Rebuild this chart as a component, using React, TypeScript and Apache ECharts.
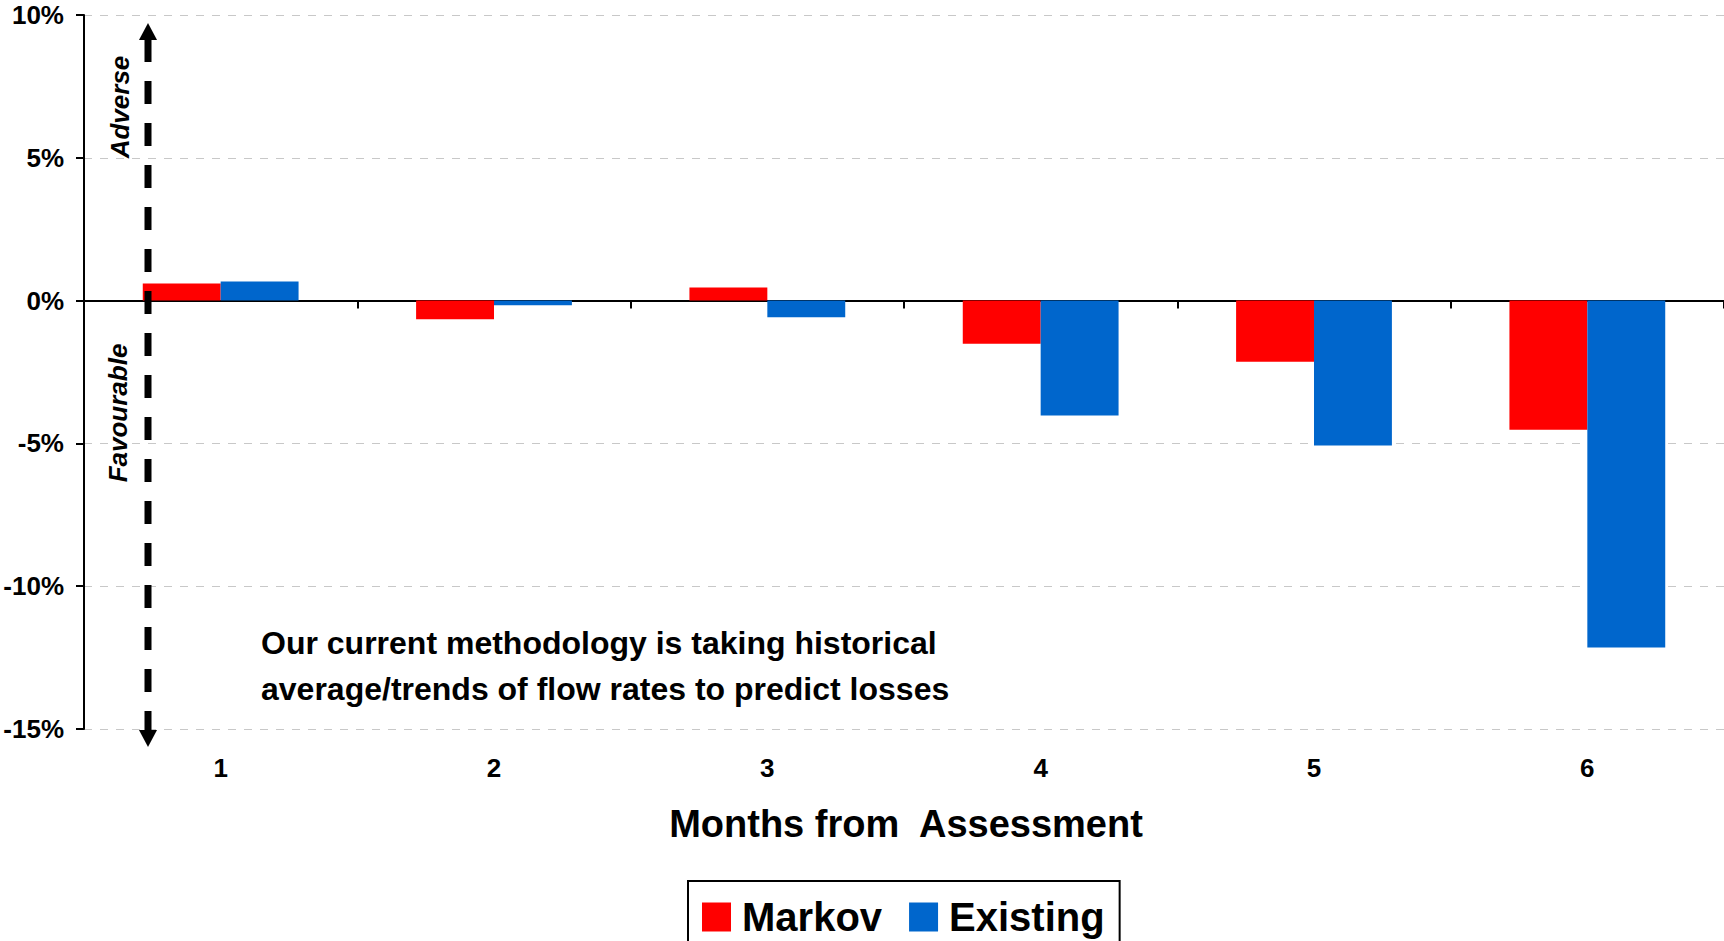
import React, { useEffect, useRef } from "react";
import * as echarts from "echarts";

const categories = ["1", "2", "3", "4", "5", "6"];
const markovValues = [0.6, -0.65, 0.46, -1.51, -2.14, -4.52];
const existingValues = [0.67, -0.16, -0.58, -4.02, -5.07, -12.15];
const yMin = -15;
const yMax = 10;
const yInterval = 5;

const FONT = "'Liberation Sans', Arial, sans-serif";

export default function App() {
  const ref = useRef<HTMLDivElement>(null);

  useEffect(() => {
    if (!ref.current) return;
    const chart = echarts.init(ref.current, null, { renderer: "svg" });
    chart.setOption({
      animation: false,
      backgroundColor: "#ffffff",
      textStyle: { fontFamily: FONT },
      grid: { left: 84, right: -6, top: 15, bottom: 212, containLabel: false },
      legend: {
        data: ["Markov", "Existing"],
        left: 688,
        top: 881,
        orient: "horizontal",
        icon: "rect",
        itemWidth: 29,
        itemHeight: 29,
        itemGap: 27,
        borderColor: "#000000",
        borderWidth: 2,
        padding: [16, 15, 15, 14],
        textStyle: {
          fontFamily: FONT,
          fontSize: 40,
          fontWeight: "bold",
          color: "#000000",
          padding: [0, 0, 0, 6],
        },
      },
      xAxis: [
        {
          type: "category",
          data: categories,
          position: "bottom",
          axisLine: { show: false, onZero: false },
          axisTick: { show: false },
          axisLabel: {
            margin: 26,
            fontSize: 26,
            fontWeight: "bold",
            color: "#000000",
            fontFamily: FONT,
          },
          splitLine: { show: false },
        },
        {
          type: "category",
          data: categories,
          position: "bottom",
          axisLine: { show: true, onZero: true, lineStyle: { color: "#000000", width: 2 } },
          axisTick: { show: true, length: 8, lineStyle: { color: "#000000", width: 2 } },
          axisLabel: { show: false },
          splitLine: { show: false },
        },
      ],
      yAxis: {
        type: "value",
        min: yMin,
        max: yMax,
        interval: yInterval,
        axisLine: { show: true, lineStyle: { color: "#000000", width: 2 } },
        axisTick: { show: true, length: 8, lineStyle: { color: "#000000", width: 2 } },
        axisLabel: {
          formatter: "{value}%",
          margin: 20,
          fontSize: 26,
          fontWeight: "bold",
          color: "#000000",
          fontFamily: FONT,
        },
        splitLine: {
          show: true,
          lineStyle: { color: "#c8c8c8", type: [8, 8], width: 1 },
        },
      },
      series: [
        {
          name: "Markov",
          type: "bar",
          xAxisIndex: 0,
          data: markovValues,
          barGap: "0%",
          barCategoryGap: "43%",
          itemStyle: { color: "#FF0000" },
        },
        {
          name: "Existing",
          type: "bar",
          xAxisIndex: 0,
          data: existingValues,
          barGap: "0%",
          barCategoryGap: "43%",
          itemStyle: { color: "#0066CC" },
        },
      ],
      graphic: [
        {
          type: "line",
          z: 100,
          shape: { x1: 148, y1: 39, x2: 148, y2: 731 },
          style: { stroke: "#000000", lineWidth: 7, lineDash: [23, 19] },
        },
        {
          type: "polygon",
          z: 100,
          shape: { points: [[139, 40], [157, 40], [148, 23]] },
          style: { fill: "#000000" },
        },
        {
          type: "polygon",
          z: 100,
          shape: { points: [[139, 730], [157, 730], [148, 747]] },
          style: { fill: "#000000" },
        },
        {
          type: "text",
          z: 100,
          x: 120,
          y: 107,
          rotation: Math.PI / 2,
          style: {
            text: "Adverse",
            fontFamily: FONT,
            fontSize: 26,
            fontWeight: "bold",
            fontStyle: "italic",
            fill: "#000000",
            textAlign: "center",
            textVerticalAlign: "middle",
          },
        },
        {
          type: "text",
          z: 100,
          x: 118,
          y: 413,
          rotation: Math.PI / 2,
          style: {
            text: "Favourable",
            fontFamily: FONT,
            fontSize: 26,
            fontWeight: "bold",
            fontStyle: "italic",
            fill: "#000000",
            textAlign: "center",
            textVerticalAlign: "middle",
          },
        },
        {
          type: "text",
          z: 100,
          x: 261,
          y: 643,
          style: {
            text: "Our current methodology is taking historical",
            fontFamily: FONT,
            fontSize: 32,
            fontWeight: "bold",
            fill: "#000000",
            textAlign: "left",
            textVerticalAlign: "middle",
          },
        },
        {
          type: "text",
          z: 100,
          x: 261,
          y: 689,
          style: {
            text: "average/trends of flow rates to predict losses",
            fontFamily: FONT,
            fontSize: 32,
            fontWeight: "bold",
            fill: "#000000",
            textAlign: "left",
            textVerticalAlign: "middle",
          },
        },
        {
          type: "text",
          z: 100,
          x: 906,
          y: 824,
          style: {
            text: "Months from  Assessment",
            fontFamily: FONT,
            fontSize: 38,
            fontWeight: "bold",
            fill: "#000000",
            textAlign: "center",
            textVerticalAlign: "middle",
          },
        },
      ],
    });
    return () => chart.dispose();
  }, []);

  return (
    <div
      ref={ref}
      style={{ position: "absolute", left: 0, top: 0, width: 1724, height: 941 }}
    />
  );
}
